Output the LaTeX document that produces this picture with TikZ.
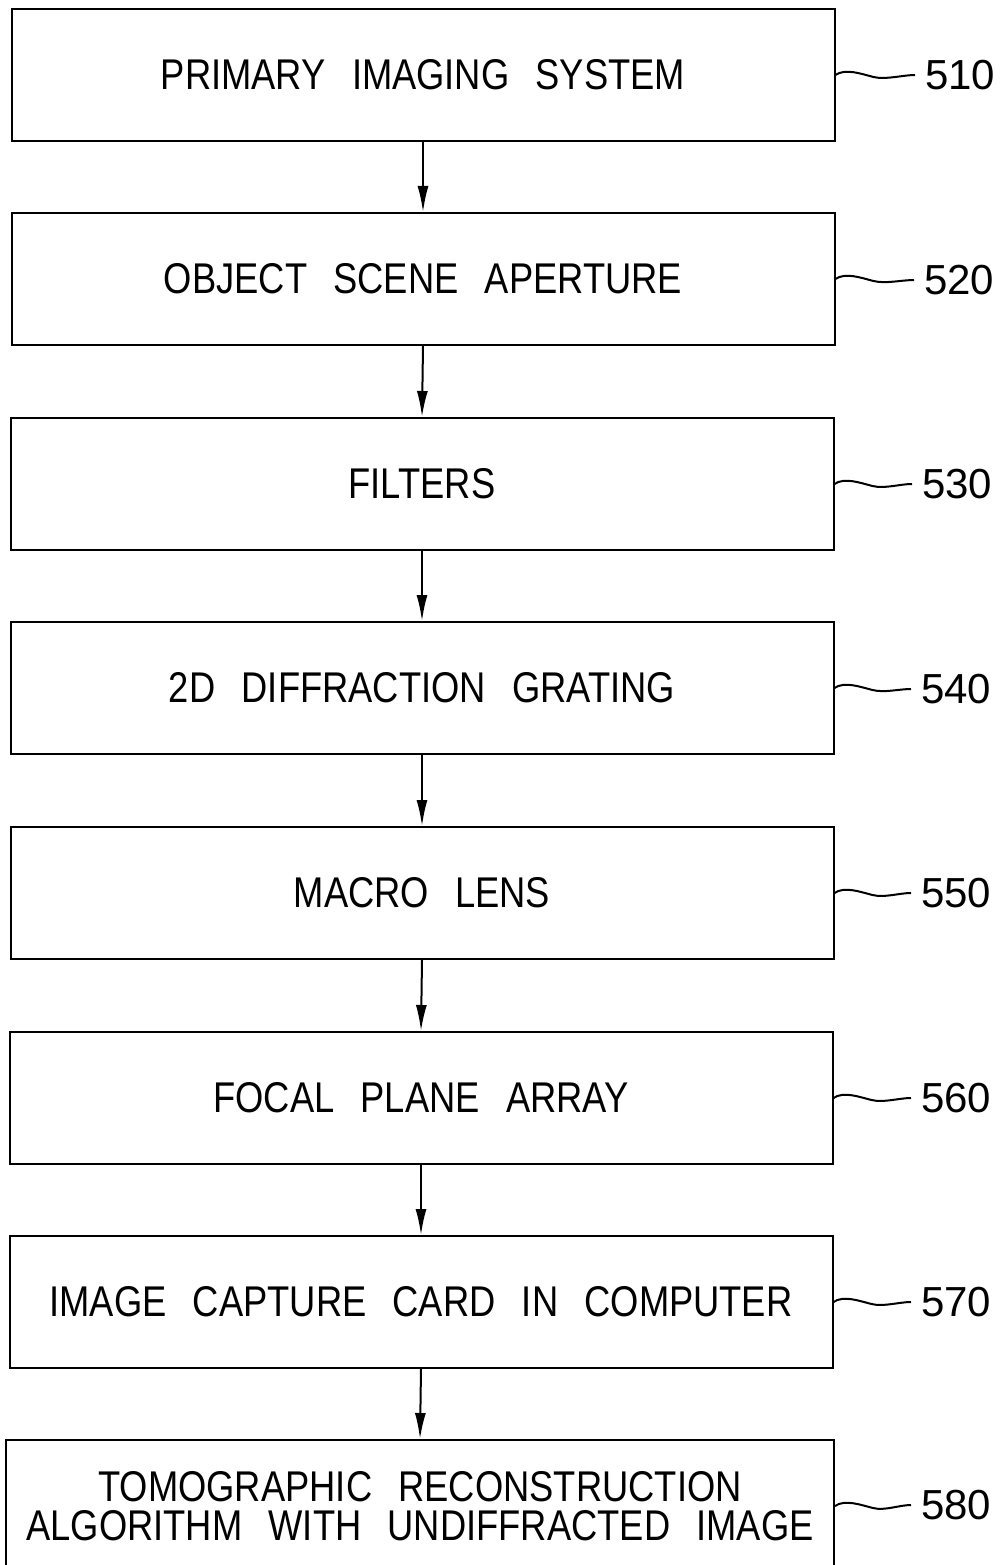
\documentclass[tikz,border=0pt]{standalone}
\usepackage{fontspec}
\setmainfont{Liberation Sans}
\newfontfamily\boxfont[FakeStretch=0.845,WordSpace=2.6]{Liberation Sans}
\usetikzlibrary{arrows.meta}
\begin{document}
\begin{tikzpicture}[x=1pt,y=-1pt,
  blk/.style={draw,line width=2pt,minimum width=823pt,minimum height=132pt,inner sep=0pt,
    font=\boxfont\fontsize{43}{39}\selectfont,align=center},
  lab/.style={font=\fontsize{42}{42}\selectfont,inner sep=0pt,anchor=west},
  flow/.style={line width=2pt,-{Latex[length=26pt,width=11pt]}},
  sq/.style={line width=2pt}]
\useasboundingbox (0,0) rectangle (1006,1565);
\begin{scope}
\clip (0,0) rectangle (1006,1565);
\node[blk] (b1) at (423,75) {PRIMARY IMAGING SYSTEM};
\node[blk] (b2) at (423,279) {OBJECT SCENE APERTURE};
\node[blk] (b3) at (422,484) {FILTERS};
\node[blk] (b4) at (422,688) {2D DIFFRACTION GRATING};
\node[blk] (b5) at (422,893) {MACRO LENS};
\node[blk] (b6) at (421,1098) {FOCAL PLANE ARRAY};
\node[blk] (b7) at (421,1302) {IMAGE CAPTURE CARD IN COMPUTER};
\node[blk,minimum width=828pt] (b8) at (420,1506) {TOMOGRAPHIC RECONSTRUCTION\\ALGORITHM WITH UNDIFFRACTED IMAGE};
\end{scope}
\node[lab] (l1) at (925,75) {510};
\node[lab] (l2) at (924,280) {520};
\node[lab] (l3) at (922,484) {530};
\node[lab] (l4) at (921,689) {540};
\node[lab] (l5) at (921,893) {550};
\node[lab] (l6) at (921,1098) {560};
\node[lab] (l7) at (921,1302) {570};
\node[lab] (l8) at (921,1505) {580};
\foreach \i in {1,...,8}{
  \draw[sq] (b\i.east) .. controls +(10,-7) and +(-12,-3) .. ++(38,2)
     .. controls +(12,3) and +(-12,0) .. ([xshift=-10pt]l\i.west);
}
\foreach \i/\j in {1/2,2/3,3/4,4/5,5/6,6/7,7/8}{
  \draw[flow] (b\i.south) -- (b\j.north);
}
\end{tikzpicture}
\end{document}
